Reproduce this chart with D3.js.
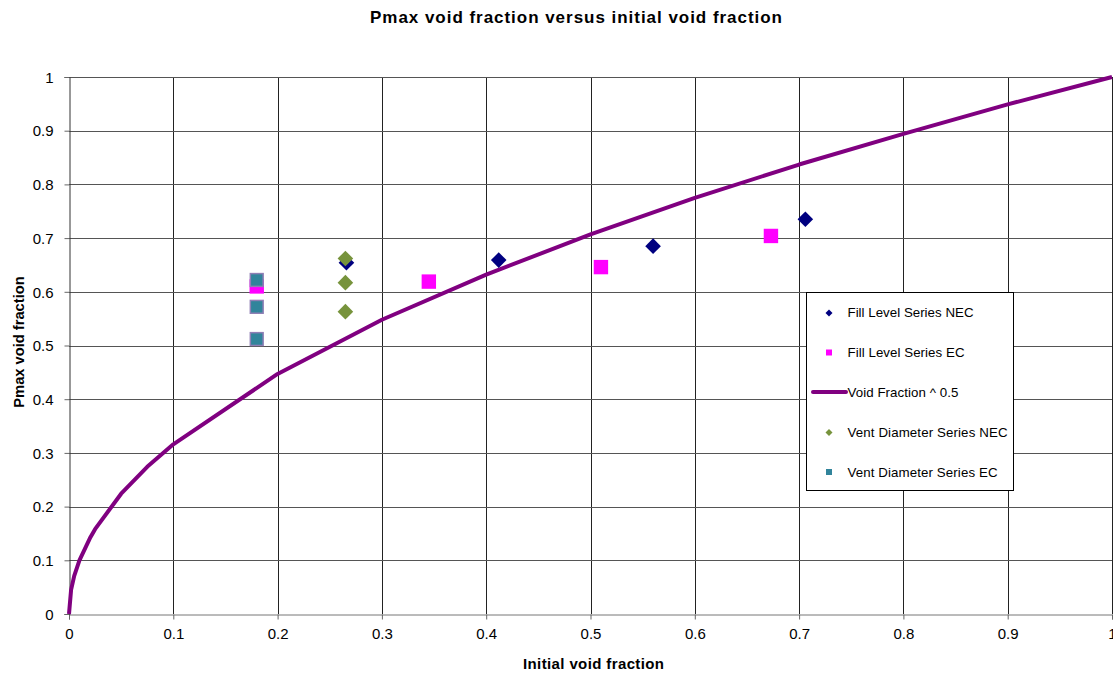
<!DOCTYPE html>
<html>
<head>
<meta charset="utf-8">
<script src="https://cdn.jsdelivr.net/npm/d3@7"></script>
<style>
  body { margin: 0; background: #fff; }
  svg { display: block; font-family: "Liberation Sans", Arial, sans-serif; }
</style>
</head>
<body>
<svg id="chart" width="1113" height="675"></svg>
<script>
// Curve: Pmax void fraction = initial void fraction ^ 0.5
const curveX = [0, 0.002, 0.005, 0.01, 0.02, 0.025, 0.05, 0.075, 0.1, 0.2, 0.3, 0.4, 0.5, 0.6, 0.7, 0.8, 0.9, 1.0];
const curveY = [0, 0.045, 0.071, 0.1, 0.141, 0.158, 0.224, 0.274, 0.316, 0.447, 0.548, 0.632, 0.707, 0.775, 0.837, 0.894, 0.949, 1.0];

// Fill level series, no ignition (NEC)
const fillNecX = [0.266, 0.412, 0.560, 0.706];
const fillNecY = [0.654, 0.659, 0.685, 0.735];

// Fill level series, with ignition (EC)
const fillEcX = [0.180, 0.345, 0.510, 0.673];
const fillEcY = [0.610, 0.619, 0.646, 0.704];

// Vent diameter series NEC
const ventNecX = [0.265, 0.265, 0.265];
const ventNecY = [0.662, 0.617, 0.563];

// Vent diameter series EC
const ventEcX = [0.180, 0.180, 0.180];
const ventEcY = [0.622, 0.572, 0.512];

const xTicks = [0, 0.1, 0.2, 0.3, 0.4, 0.5, 0.6, 0.7, 0.8, 0.9, 1];
const yTicks = [0, 0.1, 0.2, 0.3, 0.4, 0.5, 0.6, 0.7, 0.8, 0.9, 1];

const legendLabels = ["Fill Level Series NEC", "Fill Level Series EC", "Void Fraction ^ 0.5", "Vent Diameter Series NEC", "Vent Diameter Series EC"];
const legendWidths = [126, 117, 111, 160, 150];

const svg = d3.select("#chart");
const plotLeft = 69, plotRight = 1112, plotTop = 77, plotBottom = 614;

const x = d3.scaleLinear().domain([0, 1]).range([plotLeft, plotRight]);
const y = d3.scaleLinear().domain([0, 1]).range([plotBottom, plotTop]);

// Title
svg.append("text").attr("x", 370).attr("y", 23)
  .attr("font-size", 17).attr("font-weight", "bold")
  .attr("textLength", 412).attr("lengthAdjust", "spacing")
  .text("Pmax void fraction versus initial void fraction");

// Gridlines
const grid = svg.append("g");
grid.selectAll("line.v").data(xTicks.slice(1)).join("line")
  .attr("x1", d => Math.round(x(d)) + 0.5).attr("x2", d => Math.round(x(d)) + 0.5)
  .attr("y1", plotTop).attr("y2", plotBottom).attr("stroke", "#222").attr("stroke-width", 1);
grid.selectAll("line.h").data(yTicks.slice(1)).join("line")
  .attr("x1", plotLeft).attr("x2", plotRight)
  .attr("y1", d => Math.round(y(d)) + 0.5).attr("y2", d => Math.round(y(d)) + 0.5)
  .attr("stroke", "#555").attr("stroke-width", 1);

// Axes
const xAxis = svg.append("g").attr("transform", `translate(0,${plotBottom + 0.5})`)
  .call(d3.axisBottom(x).tickValues(xTicks).tickSize(5).tickFormat(d3.format("")));
const yAxis = svg.append("g").attr("transform", `translate(${plotLeft + 0.5},0)`)
  .call(d3.axisLeft(y).tickValues(yTicks).tickSize(5).tickFormat(d3.format("")));
[xAxis, yAxis].forEach(a => {
  a.selectAll(".tick line").attr("stroke", "#666");
  a.selectAll("text").attr("font-size", 15).attr("fill", "#000")
    .attr("font-family", "'Liberation Sans', Arial, sans-serif");
});
xAxis.select("path.domain").attr("stroke", "#777");
yAxis.select("path.domain").attr("stroke", "#333");
xAxis.selectAll("text").attr("dy", null).attr("y", 24.5);
yAxis.selectAll("text").attr("x", -16).attr("dy", "0.35em");

// Axis titles
svg.append("text").attr("x", 523).attr("y", 669)
  .attr("font-size", 15).attr("font-weight", "bold")
  .attr("textLength", 141).attr("lengthAdjust", "spacing")
  .text("Initial void fraction");
svg.append("text").attr("transform", "translate(23.5,342) rotate(-90)").attr("text-anchor", "middle")
  .attr("font-size", 14.7).attr("font-weight", "bold").text("Pmax void fraction");

// Curve
const curvePts = curveX.map((d, i) => [d, curveY[i]]);
svg.append("path").datum(curvePts)
  .attr("d", d3.line().x(d => x(d[0])).y(d => y(d[1])))
  .attr("fill", "none").attr("stroke", "#800080").attr("stroke-width", 4)
  .attr("stroke-linejoin", "round");

const diamond = s => `M0,${-s}L${s},0L0,${s}L${-s},0Z`;

function drawDiamonds(xs, ys, fill, s) {
  svg.append("g").selectAll("path").data(xs.map((d, i) => [d, ys[i]])).join("path")
    .attr("transform", d => `translate(${x(d[0])},${y(d[1])})`)
    .attr("d", diamond(s)).attr("fill", fill);
}
function drawSquares(xs, ys, fill, s, stroke) {
  svg.append("g").selectAll("rect").data(xs.map((d, i) => [d, ys[i]])).join("rect")
    .attr("x", d => x(d[0]) - s).attr("y", d => y(d[1]) - s)
    .attr("width", 2 * s).attr("height", 2 * s).attr("fill", fill)
    .attr("stroke", stroke || "none").attr("stroke-width", stroke ? 1.5 : 0);
}

drawSquares(fillEcX, fillEcY, "#ff00ff", 7.2);
drawDiamonds(fillNecX, fillNecY, "#000080", 7.8);
drawDiamonds(ventNecX, ventNecY, "#77933c", 7.8);
drawSquares(ventEcX, ventEcY, "#31849b", 6.4, "#8f7fb5");

// Legend
const lg = svg.append("g");
lg.append("rect").attr("x", 806.5).attr("y", 292.5).attr("width", 207).attr("height", 198)
  .attr("fill", "#fff").attr("stroke", "#000").attr("stroke-width", 1);
const rowY = [313, 352.5, 392, 432.5, 472];
lg.append("path").attr("transform", `translate(829,${rowY[0]})`).attr("d", diamond(3.5)).attr("fill", "#000080");
lg.append("rect").attr("x", 826).attr("y", rowY[1] - 3).attr("width", 6).attr("height", 6).attr("fill", "#ff00ff");
lg.append("line").attr("x1", 813).attr("x2", 846).attr("y1", rowY[2]).attr("y2", rowY[2])
  .attr("stroke", "#800080").attr("stroke-width", 4).attr("stroke-linecap", "round");
lg.append("path").attr("transform", `translate(829,${rowY[3]})`).attr("d", diamond(3.5)).attr("fill", "#77933c");
lg.append("rect").attr("x", 826).attr("y", rowY[4] - 3).attr("width", 6).attr("height", 6).attr("fill", "#31849b");
lg.selectAll("text").data(legendLabels).join("text")
  .attr("x", 847.5).attr("y", (d, i) => [317.3, 357.3, 397, 437, 477][i])
  .attr("font-size", 13.3).attr("fill", "#000")
  .attr("textLength", (d, i) => legendWidths[i]).attr("lengthAdjust", "spacing")
  .text(d => d);
</script>
</body>
</html>
